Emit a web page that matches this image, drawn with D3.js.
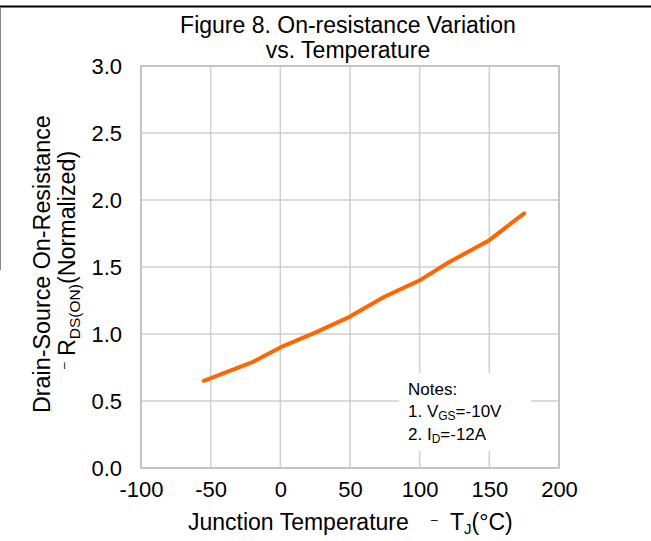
<!DOCTYPE html>
<html>
<head>
<meta charset="utf-8">
<script src="https://cdn.jsdelivr.net/npm/d3@7"></script>
<style>
  body { margin: 0; background: #fff; }
  text { font-family: "Liberation Sans", Arial, sans-serif; fill: #000; }
</style>
</head>
<body>
<div id="chart"></div>
<script>
// values
const tempC = [-55, -20, 0, 25, 50, 75, 100, 120, 150, 175];
const rdsNorm = [0.65, 0.79, 0.90, 1.01, 1.13, 1.28, 1.40, 1.53, 1.70, 1.90];
const xTicks = [-100, -50, 0, 50, 100, 150, 200];
const yTicks = [0, 0.5, 1.0, 1.5, 2.0, 2.5, 3.0];
const titleLines = ["Figure 8. On-resistance Variation", "vs. Temperature"];

const W = 651, H = 541;
const svg = d3.select("#chart").append("svg")
    .attr("width", W).attr("height", H);

// page frame bits
svg.append("line").attr("x1", 0).attr("x2", W).attr("y1", 6.5).attr("y2", 6.5)
    .attr("stroke", "#000").attr("stroke-width", 2);
svg.append("line").attr("x1", 0.5).attr("x2", 0.5).attr("y1", 7).attr("y2", 270)
    .attr("stroke", "#888").attr("stroke-width", 1);

const xscale = d3.scaleLinear().domain([-100, 200]).range([141, 559]);
const yscale = d3.scaleLinear().domain([0, 3]).range([468, 66]);

// grid
const g = svg.append("g");
g.selectAll(".vgrid").data(xTicks.slice(1, -1)).enter().append("line")
    .attr("x1", d => xscale(d)).attr("x2", d => xscale(d))
    .attr("y1", yscale(3)).attr("y2", yscale(0))
    .attr("stroke", "#cfcfcf").attr("stroke-width", 1.5);
g.selectAll(".hgrid").data(yTicks.slice(1, -1)).enter().append("line")
    .attr("x1", xscale(-100)).attr("x2", xscale(200))
    .attr("y1", d => yscale(d)).attr("y2", d => yscale(d))
    .attr("stroke", "#cfcfcf").attr("stroke-width", 1.5);

// plot frame
g.append("rect")
    .attr("x", xscale(-100)).attr("y", yscale(3))
    .attr("width", xscale(200) - xscale(-100))
    .attr("height", yscale(0) - yscale(3))
    .attr("fill", "none").attr("stroke", "#c4c4c4").attr("stroke-width", 2);

// axes labels
const xAxis = d3.axisBottom(xscale).tickValues(xTicks).tickSize(0).tickPadding(13)
    .tickFormat(d => String(d));
svg.append("g").attr("transform", `translate(0,${yscale(0)})`).call(xAxis)
    .call(a => a.select(".domain").remove())
    .selectAll("text").style("font-size", "22px").attr("fill", "#000");

const yAxis = d3.axisLeft(yscale).tickValues(yTicks).tickSize(0).tickPadding(19)
    .tickFormat(d3.format(".1f"));
svg.append("g").attr("transform", `translate(${xscale(-100)},0)`).call(yAxis)
    .call(a => a.select(".domain").remove())
    .selectAll("text").style("font-size", "22px").attr("fill", "#000");

// line
const line = d3.line().x((d, i) => xscale(tempC[i])).y(d => yscale(d));
svg.append("path").datum(rdsNorm)
    .attr("d", line)
    .attr("fill", "none")
    .attr("stroke", "#ff6600")
    .attr("stroke-width", 4)
    .attr("stroke-linecap", "round")
    .attr("stroke-linejoin", "round");

// notes box
svg.append("rect").attr("x", 399).attr("y", 373).attr("width", 132).attr("height", 78)
    .attr("fill", "#fff");
const notes = svg.append("text").style("font-size", "17px");
notes.append("tspan").attr("x", 408).attr("y", 395).text("Notes:");
const n1 = notes.append("tspan").attr("x", 408).attr("y", 417);
n1.append("tspan").text("1. V");
n1.append("tspan").attr("dy", 3).style("font-size", "12px").text("GS");
n1.append("tspan").attr("dy", -3).text("=-10V");
const n2 = notes.append("tspan").attr("x", 408).attr("y", 440);
n2.append("tspan").text("2. I");
n2.append("tspan").attr("dy", 3).style("font-size", "12px").text("D");
n2.append("tspan").attr("dy", -3).text("=-12A");

// title
svg.selectAll(".title").data(titleLines).enter().append("text")
    .attr("x", 348).attr("y", (d, i) => 33 + i * 25)
    .attr("text-anchor", "middle").style("font-size", "23px")
    .text(d => d);

// x axis title
const xt = svg.append("text").attr("y", 530).style("font-size", "23px");
xt.append("tspan").attr("x", 188).text("Junction Temperature");
xt.append("tspan").attr("x", 431).attr("dy", -6).style("font-size", "12px").text("\u2013");
xt.append("tspan").attr("x", 450).attr("dy", 6).text("T");
xt.append("tspan").style("font-size", "15px").attr("dy", 4).text("J");
xt.append("tspan").attr("dy", -4).text("(\u00b0C)");

// y axis title (rotated, text x = -page y)
svg.append("text").attr("transform", "translate(50,0) rotate(-90)")
    .attr("x", -413).style("font-size", "23.3px")
    .text("Drain-Source On-Resistance");
const yt2 = svg.append("text").attr("transform", "translate(75,0) rotate(-90)")
    .style("font-size", "23.3px");
yt2.append("tspan").attr("x", -369).attr("dy", -7).style("font-size", "12px").text("\u2013");
yt2.append("tspan").attr("x", -356).attr("dy", 7).text("R");
yt2.append("tspan").attr("dy", 5).style("font-size", "15.5px").text("DS(ON)");
yt2.append("tspan").attr("dy", -5).text("(Normalized)");
</script>
</body>
</html>
